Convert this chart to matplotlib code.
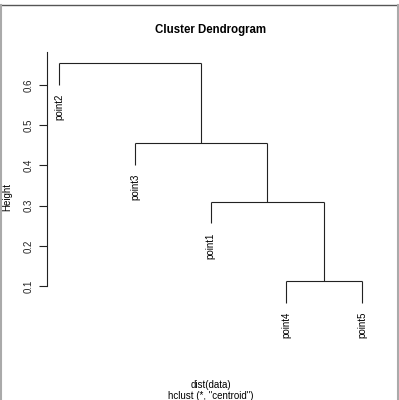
import matplotlib
matplotlib.use('Agg')
import matplotlib.pyplot as plt
from matplotlib.lines import Line2D

plt.rcParams['font.family'] = ['Liberation Sans', 'DejaVu Sans']

# hclust result (centroid linkage), R style merge matrix
labels = ['point1', 'point2', 'point3', 'point4', 'point5']
merge = [(-4, -5), (-1, 1), (-3, 2), (-2, 3)]
heights = [0.112, 0.310, 0.456, 0.655]
order = [2, 3, 1, 4, 5]
yticks = [0.1, 0.2, 0.3, 0.4, 0.5, 0.6]

W, H = 399, 400
fig = plt.figure(figsize=(W / 100, H / 100), dpi=100)
ax = fig.add_axes([47.2 / W, 1 - 341 / H, (374.1 - 47.2) / W, (341 - 53.2) / H])

hang = 0.1 * (max(heights) - min(heights))
lc = '#222222'
lw = 0.8

leaf_x = {leaf: i + 1 for i, leaf in enumerate(order)}
node_x = {}
node_y = {}


def child(c):
    # x of the child and its height (None for a leaf)
    if c < 0:
        return leaf_x[-c], None
    return node_x[c], node_y[c]


for k, (a, b) in enumerate(merge, start=1):
    h = heights[k - 1]
    xa, ya = child(a)
    xb, yb = child(b)
    for c, x, y in ((a, xa, ya), (b, xb, yb)):
        if y is None:
            y = h - hang
            ax.annotate(labels[-c - 1], (x, y), xytext=(0, -6.5), textcoords='offset points',
                        rotation=90, ha='center', va='top', fontsize=7)
        ax.plot([x, x], [y, h], color=lc, lw=lw, solid_capstyle='butt')
    ax.plot([xa, xb], [h, h], color=lc, lw=lw, solid_capstyle='butt')
    node_x[k] = (xa + xb) / 2
    node_y[k] = h

ax.set_xlim(0.84, 5.16)
ax.set_ylim(-0.0366, 0.679)
for s in ['top', 'right', 'bottom']:
    ax.spines[s].set_visible(False)
ax.spines['left'].set_bounds(0.1, 0.682)
ax.spines['left'].set_color(lc)
ax.spines['left'].set_linewidth(lw)
ax.set_xticks([])
ax.set_yticks(yticks)
ax.set_yticklabels([str(v) for v in yticks])
ax.tick_params(axis='y', length=5.5, width=lw, color=lc, labelsize=7, pad=4.5, labelcolor='#222222')
plt.setp(ax.get_yticklabels(), rotation=90, va='center', ha='right')

fig.text(210.6 / W, 1 - 30 / H, 'Cluster Dendrogram', ha='center', va='center',
         fontsize=8.3, fontweight='bold')
fig.text(7.7 / W, 1 - 197 / H, 'Height', rotation=90, ha='center', va='center', fontsize=7)
fig.text(211 / W, 1 - 385.5 / H, 'dist(data)', ha='center', va='center', fontsize=7)
fig.text(211 / W, 1 - 396 / H, 'hclust (*, "centroid")', ha='center', va='center', fontsize=7)

# window frame around the picture
fig.add_artist(Line2D([2 / W, 1], [1 - 5.3 / H, 1 - 5.3 / H], transform=fig.transFigure, color='#555555', lw=1))
fig.add_artist(Line2D([1 / W, 1 / W], [0, 1 - 5 / H], transform=fig.transFigure, color='#aaaaaa', lw=1.5))
fig.add_artist(Line2D([397.5 / W, 397.5 / W], [0, 1 - 5 / H], transform=fig.transFigure, color='#aaaaaa', lw=1.5))

fig.savefig('out.png', dpi=100)
